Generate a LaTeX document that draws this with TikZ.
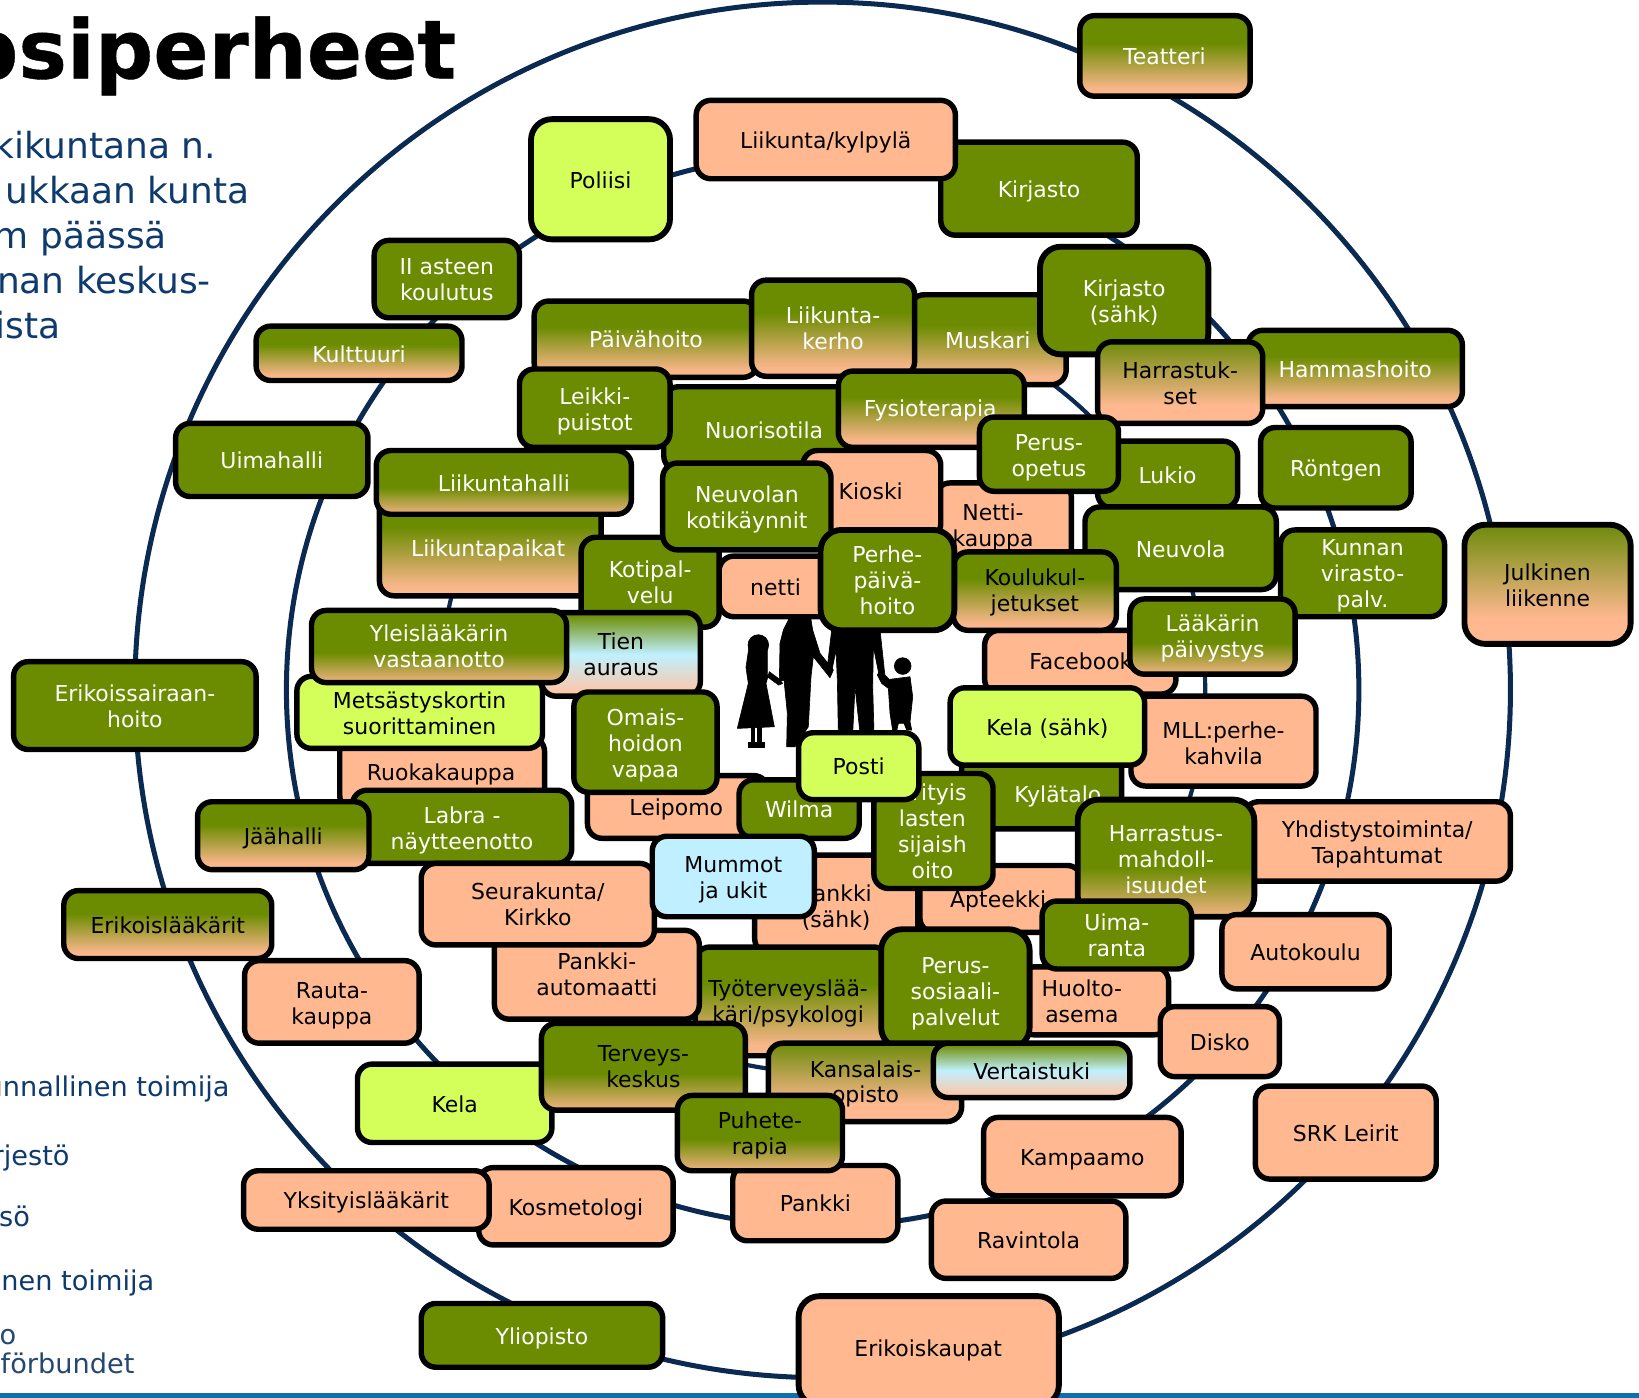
\documentclass[tikz,border=0pt]{standalone}
\usepackage{fontspec}
\setmainfont{DejaVu Sans}
\definecolor{grn}{HTML}{6B8C00}
\definecolor{pch}{HTML}{FFB890}
\definecolor{lim}{HTML}{D4FF5A}
\definecolor{sky}{HTML}{C0F0FF}
\definecolor{ring}{HTML}{0B2A52}
\definecolor{ink}{HTML}{0F3A6E}
\definecolor{bar}{HTML}{0F6FA8}
\pgfdeclareverticalshading{gpa}{100bp}{color(0bp)=(pch); color(25bp)=(pch); color(30bp)=(pch!95!grn); color(58bp)=(grn); color(100bp)=(grn)}
\pgfdeclareverticalshading{gpc}{100bp}{color(0bp)=(pch); color(25bp)=(pch!90!grn); color(46bp)=(grn); color(100bp)=(grn)}
\pgfdeclareverticalshading{gpb}{100bp}{color(0bp)=(pch); color(36bp)=(pch); color(75bp)=(grn!92!gray); color(100bp)=(grn!92!gray)}
\pgfdeclareverticalshading{gbp}{100bp}{color(0bp)=(pch!80!white); color(27bp)=(pch!80!white); color(50bp)=(sky); color(74bp)=(grn); color(100bp)=(grn)}
\newcommand{\lowertext}{\rule[-2.2pt]{0pt}{12.8pt}}
\newcommand{\mv}[1]{\rule{0pt}{\dimexpr8pt+#1pt\relax}}
\tikzset{
  boxbase/.style={draw=black,line width=2.6pt,rounded corners=7pt,inner sep=0pt,align=center,font=\fontsize{10.5}{12.4}\selectfont,execute at begin node=\lowertext},
  G/.style={boxbase,fill=grn,text=white},
  GPw/.style={boxbase,shading=gpa,text=white},
  GPg/.style={boxbase,shading=gpc,text=white},
  GPk/.style={boxbase,shading=gpa,text=black},
  GPh/.style={boxbase,shading=gpc,text=black},
  GQ/.style={boxbase,shading=gpb,text=black},
  P/.style={boxbase,fill=pch,text=black},
  L/.style={boxbase,fill=lim,text=black},
  B/.style={boxbase,fill=sky,text=black},
  BG/.style={boxbase,shading=gbp,text=black},
  big/.style={rounded corners=10pt,line width=2.8pt},
  lab/.style={inner sep=0pt,align=center,font=\fontsize{10.5}{12.4}\selectfont,execute at begin node=\lowertext},
  side/.style={inner sep=0pt,text=ink,anchor=base east},
  ringline/.style={draw=ring,line width=2.4pt},
  fam/.style={fill=black,draw=black,line width=.3pt,line join=round}
}
% name, x0,y0,x1,y1, style, text (centred in the box)
\newcommand{\bx}[7]{\node[#6,minimum width={(#4-#2)*0.5pt},minimum height={(#5-#3)*0.5pt}] (#1) at ({(#2+#4)/2},{(#3+#5)/2}) {#7};}
% same, with the text at its own position
\newcommand{\bxt}[9]{\node[#6,minimum width={(#4-#2)*0.5pt},minimum height={(#5-#3)*0.5pt}] (#1) at ({(#2+#4)/2},{(#3+#5)/2}) {};
  \node[lab,text=#9] (#1t) at (#7) {#8};}
\begin{document}
\begin{tikzpicture}[x=0.5pt,y=-0.5pt]
\useasboundingbox (0,0) rectangle (1568,1337);
\begin{scope}
\clip (0,0) rectangle (1568,1337);
% bottom bar
\fill[bar] (0,1333) rectangle (1568,1340);
% rings
\draw[ringline] (787,660) circle [radius=658];
\draw[ringline] (787,660) circle [radius=513];
\draw[ringline,line width=2pt] (787,660) circle [radius=366];
% title and side texts
\node[inner sep=0pt,anchor=base east,font=\bfseries\fontsize{39}{39}\selectfont\addfontfeature{FakeBold=0.5}] (title) at (437,75) {psiperheet};
\begin{scope}[every node/.append style={font=\fontsize{17.2}{20}\selectfont}]
\node[side] (t1) at (207,152) {kikuntana n.};
\node[side] (t2) at (239,195) {ukkaan kunta};
\node[side] (t3) at (160,238) {m päässä};
\node[side] (t4) at (202,281) {nan keskus-};
\node[side] (t5) at (58,324) {ista};
\end{scope}
\begin{scope}[every node/.append style={font=\fontsize{13}{16}\selectfont}]
\node[side] (l1) at (220,1049) {unnallinen toimija};
\node[side] (l2) at (67,1115) {rjestö};
\node[side] (l3) at (29,1173) {sö};
\node[side] (l4) at (148,1235) {inen toimija};
\node[side,text=ink!80!gray] (l5) at (16,1286) {o};
\node[side,text=ink!80!gray] (l6) at (129,1314) {förbundet};
\end{scope}
% family silhouette (drawn shapes)
\begin{scope}[shift={(650.5,554.9)},x=0.1595pt,y=-0.1595pt]
 % girl
 \fill[fam] (235,195) circle [radius=31];
 \fill[fam] (207,200) -- (198,262) -- (205,310) -- (172,445) -- (283,440) -- (258,310) -- (268,275) -- (295,295) -- (308,310) -- (296,315) -- (262,290) -- (262,200) -- cycle;
 \fill[fam] (213,440) rectangle (224,490);
 \fill[fam] (232,440) rectangle (243,490);
 \fill[fam] (205,488) rectangle (252,503);
 % mother
 \fill[fam] (335,100) -- (390,100) -- (398,150) -- (420,220) -- (460,270) -- (450,293) -- (400,230) -- (393,290) -- (385,440) -- (345,500) -- (320,500) -- (322,400) -- (312,300) -- (298,305) -- (300,190) -- (310,150) -- cycle;
 % father
 \fill[fam] (455,150) -- (600,150) -- (615,290) -- (598,290) -- (580,200) -- (578,320) -- (582,460) -- (540,460) -- (525,320) -- (518,460) -- (475,460) -- (472,300) -- (468,210) -- (456,270) -- (442,260) -- cycle;
 % boy
 \fill[fam] (668,258) circle [radius=25];
 \fill[fam] (600,270) -- (615,285) -- (628,298) -- (690,290) -- (698,350) -- (690,425) -- (695,450) -- (680,450) -- (672,430) -- (655,430) -- (650,452) -- (638,452) -- (630,400) -- (625,325) -- (605,310) -- (592,285) -- cycle;
\end{scope}
% boxes, bottom to top
\bxt{teatteri}{1033}{15}{1196}{92}{GPw}{1114,53}{Teatteri}{white}
\bx{kirjasto}{900}{136}{1088}{225}{G}{Kirjasto}
\bx{kylpyla}{666}{96}{914}{171}{P}{Liikunta/kylpylä}
\bx{poliisi}{508}{114}{641}{229}{L,big}{Poliisi}
\bx{asteen}{358}{230}{497}{304}{G}{\mv{2.5}II asteen\\koulutus}
\bx{kulttuuri}{245}{312}{442}{364}{GPw}{Kulttuuri}
\bx{uimahalli}{168}{405}{352}{475}{G}{Uimahalli}
\bx{paivahoito}{511}{288}{725}{361}{GPw}{Päivähoito}
\bx{muskari}{870}{282}{1020}{368}{GPw}{Muskari}
\bx{kerho}{719}{268}{875}{360}{GPw}{\mv{2.5}Liikunta-\\kerho}
\bx{kirsahk}{995}{236}{1156}{339}{G,big}{\mv{3}Kirjasto\\(sähk)}
\bx{hammas}{1194}{316}{1399}{389}{GPw}{Hammashoito}
\bx{harrast}{1050}{327}{1208}{405}{GQ}{\mv{2.5}Harrastuk-\\set}
\bxt{nuoriso}{635}{370}{815}{450}{G}{731,411}{Nuorisotila}{white}
\bxt{fysio}{802}{355}{980}{428}{GPw}{890,390}{Fysioterapia}{white}
\bx{leikki}{497}{353}{641}{428}{G}{\mv{3}Leikki-\\puistot}
\bxt{paikat}{363}{470}{575}{570}{GPw}{467,524}{Liikuntapaikat}{white}
\bx{halli}{360}{431}{604}{492}{GPg}{Liikuntahalli}
\bxt{netti}{688}{532}{800}{590}{P}{742,561}{netti}{black}
\bx{kotipal}{556}{514}{688}{600}{G}{\mv{2}Kotipal-\\velu}
\bxt{nettik}{895}{462}{1025}{545}{P}{950,503}{\mv{2}Netti-\\kauppa}{black}
\bxt{kioski}{768}{431}{900}{515}{P}{833,469}{Kioski}{black}
\bx{neukot}{634}{443}{795}{526}{G}{\mv{2.5}Neuvolan\\kotikäynnit}
\bx{lukio}{1050}{422}{1184}{486}{G}{Lukio}
\bx{perusop}{937}{399}{1070}{470}{G}{\mv{3}Perus-\\opetus}
\bx{rontgen}{1206}{409}{1350}{486}{G}{Röntgen}
\bx{neuvola}{1038}{485}{1221}{564}{G}{Neuvola}
\bx{kunnan}{1225}{507}{1382}{590}{G}{\mv{2}Kunnan\\virasto-\\palv.}
\bxt{facebook}{942}{603}{1125}{664}{P}{1034,632}{Facebook}{black}
\bx{laakari}{1081}{573}{1239}{645}{GPg}{\mv{2}Lääkärin\\päivystys}
\bx{koulu}{912}{528}{1068}{603}{GPk}{\mv{1.5}Koulukul-\\jetukset}
\bx{perhe}{785}{507}{913}{603}{G,big}{\mv{2.5}Perhe-\\päivä-\\hoito}
\bx{julkinen}{1401}{502}{1560}{616}{GQ,big}{\mv{3}Julkinen\\liikenne}
\bx{tien}{518}{586}{670}{666}{BG}{\mv{2}Tien\\auraus}
\bxt{ruoka}{325}{705}{521}{775}{P}{422,738}{Ruokakauppa}{black}
\bx{metsa}{284}{647}{519}{716}{L}{\mv{2.5}Metsästyskortin\\suorittaminen}
\bx{yleis}{298}{584}{542}{653}{GPg}{\mv{2}Yleislääkärin\\vastaanotto}
\bx{erisair}{13}{633}{245}{717}{G}{\mv{3}Erikoissairaan-\\hoito}
\bxt{labra}{337}{756}{547}{826}{G}{442,792}{\mv{2.5}Labra -\\näytteenotto}{white}
\bx{jaahalli}{189}{767}{353}{832}{GPk}{Jäähalli}
\bxt{leipomo}{562}{742}{735}{802}{P}{647,772}{Leipomo}{black}
\bx{omais}{549}{662}{686}{758}{G}{\mv{3}Omais-\\hoidon\\vapaa}
\bx{wilma}{707}{746}{822}{802}{G}{Wilma}
\bx{mll}{1082}{666}{1259}{752}{P}{\mv{4}MLL:perhe-\\kahvila}
\bxt{kylatalo}{920}{720}{1073}{793}{G}{1012,759}{Kylätalo}{white}
\bx{kelas}{909}{658}{1095}{732}{L}{Kela (sähk)}
\bx{yhdist}{1190}{767}{1445}{843}{P}{\mv{3}Yhdistystoiminta/\\Tapahtumat}
\bxt{pankkis}{722}{818}{878}{912}{P}{800,867}{\mv{2}Pankki\\(sähk)}{black}
\bxt{apteekki}{880}{828}{1035}{892}{P}{955,860}{Apteekki}{black}
\bxt{erityis}{836}{740}{950}{850}{G}{892,795}{\mv{2}Erityis\\lasten\\sijaish\\oito}{white}
\bx{posti}{764}{701}{879}{765}{L}{Posti}
\bx{harrmah}{1031}{765}{1200}{877}{GPg,big}{\mv{3.5}Harrastus-\\mahdoll-\\isuudet}
\bx{erilaak}{61}{852}{260}{917}{GPk}{Erikoislääkärit}
\bx{rauta}{234}{919}{401}{998}{P}{\mv{3}Rauta-\\kauppa}
\bxt{tyo}{665}{906}{850}{1010}{GPk}{754,959}{\mv{1}Työterveyslää-\\käri/psykologi}{black}
\bx{pankkiaut}{473}{890}{669}{975}{P}{\mv{2}Pankki-\\automaatti}
\bx{seura}{403}{826}{626}{904}{P}{\mv{2.5}Seurakunta/\\Kirkko}
\bx{mummot}{624}{800}{779}{877}{B}{\mv{3}Mummot\\ja ukit}
\bxt{huolto}{975}{925}{1118}{990}{P}{1035,958}{\mv{2}Huolto-\\asema}{black}
\bx{uimar}{997}{862}{1140}{927}{G}{\mv{2.5}Uima-\\ranta}
\bx{perusos}{843}{889}{985}{1003}{G,big}{\mv{4}Perus-\\sosiaali-\\palvelut}
\bx{autokoulu}{1169}{875}{1329}{946}{P}{Autokoulu}
\bx{disko}{1110}{963}{1224}{1030}{P}{Disko}
\bxt{kansal}{735}{998}{920}{1073}{GQ}{828,1035}{\mv{2}Kansalais-\\opisto}{black}
\bx{vertais}{893}{998}{1081}{1050}{BG}{Vertaistuki}
\bx{kela}{342}{1018}{528}{1093}{L}{Kela}
\bx{terveys}{518}{979}{713}{1062}{GPh}{\mv{2}Terveys-\\keskus}
\bx{srk}{1201}{1039}{1374}{1128}{P}{SRK Leirit}
\bx{kampaamo}{941}{1069}{1130}{1144}{P}{Kampaamo}
\bx{ravintola}{891}{1149}{1077}{1223}{P}{Ravintola}
\bx{pankki}{701}{1115}{859}{1187}{P}{Pankki}
\bx{puhe}{648}{1048}{806}{1120}{GPh}{\mv{2}Puhete-\\rapia}
\bx{kosmet}{458}{1117}{644}{1191}{P}{Kosmetologi}
\bx{yksit}{233}{1120}{468}{1176}{P}{Yksityislääkärit}
\bx{yliopisto}{403}{1247}{634}{1308}{G}{Yliopisto}
\bxt{erikois}{764}{1240}{1013}{1345}{P,big}{888,1289}{Erikoiskaupat}{black}
\end{scope}
\end{tikzpicture}
\end{document}
